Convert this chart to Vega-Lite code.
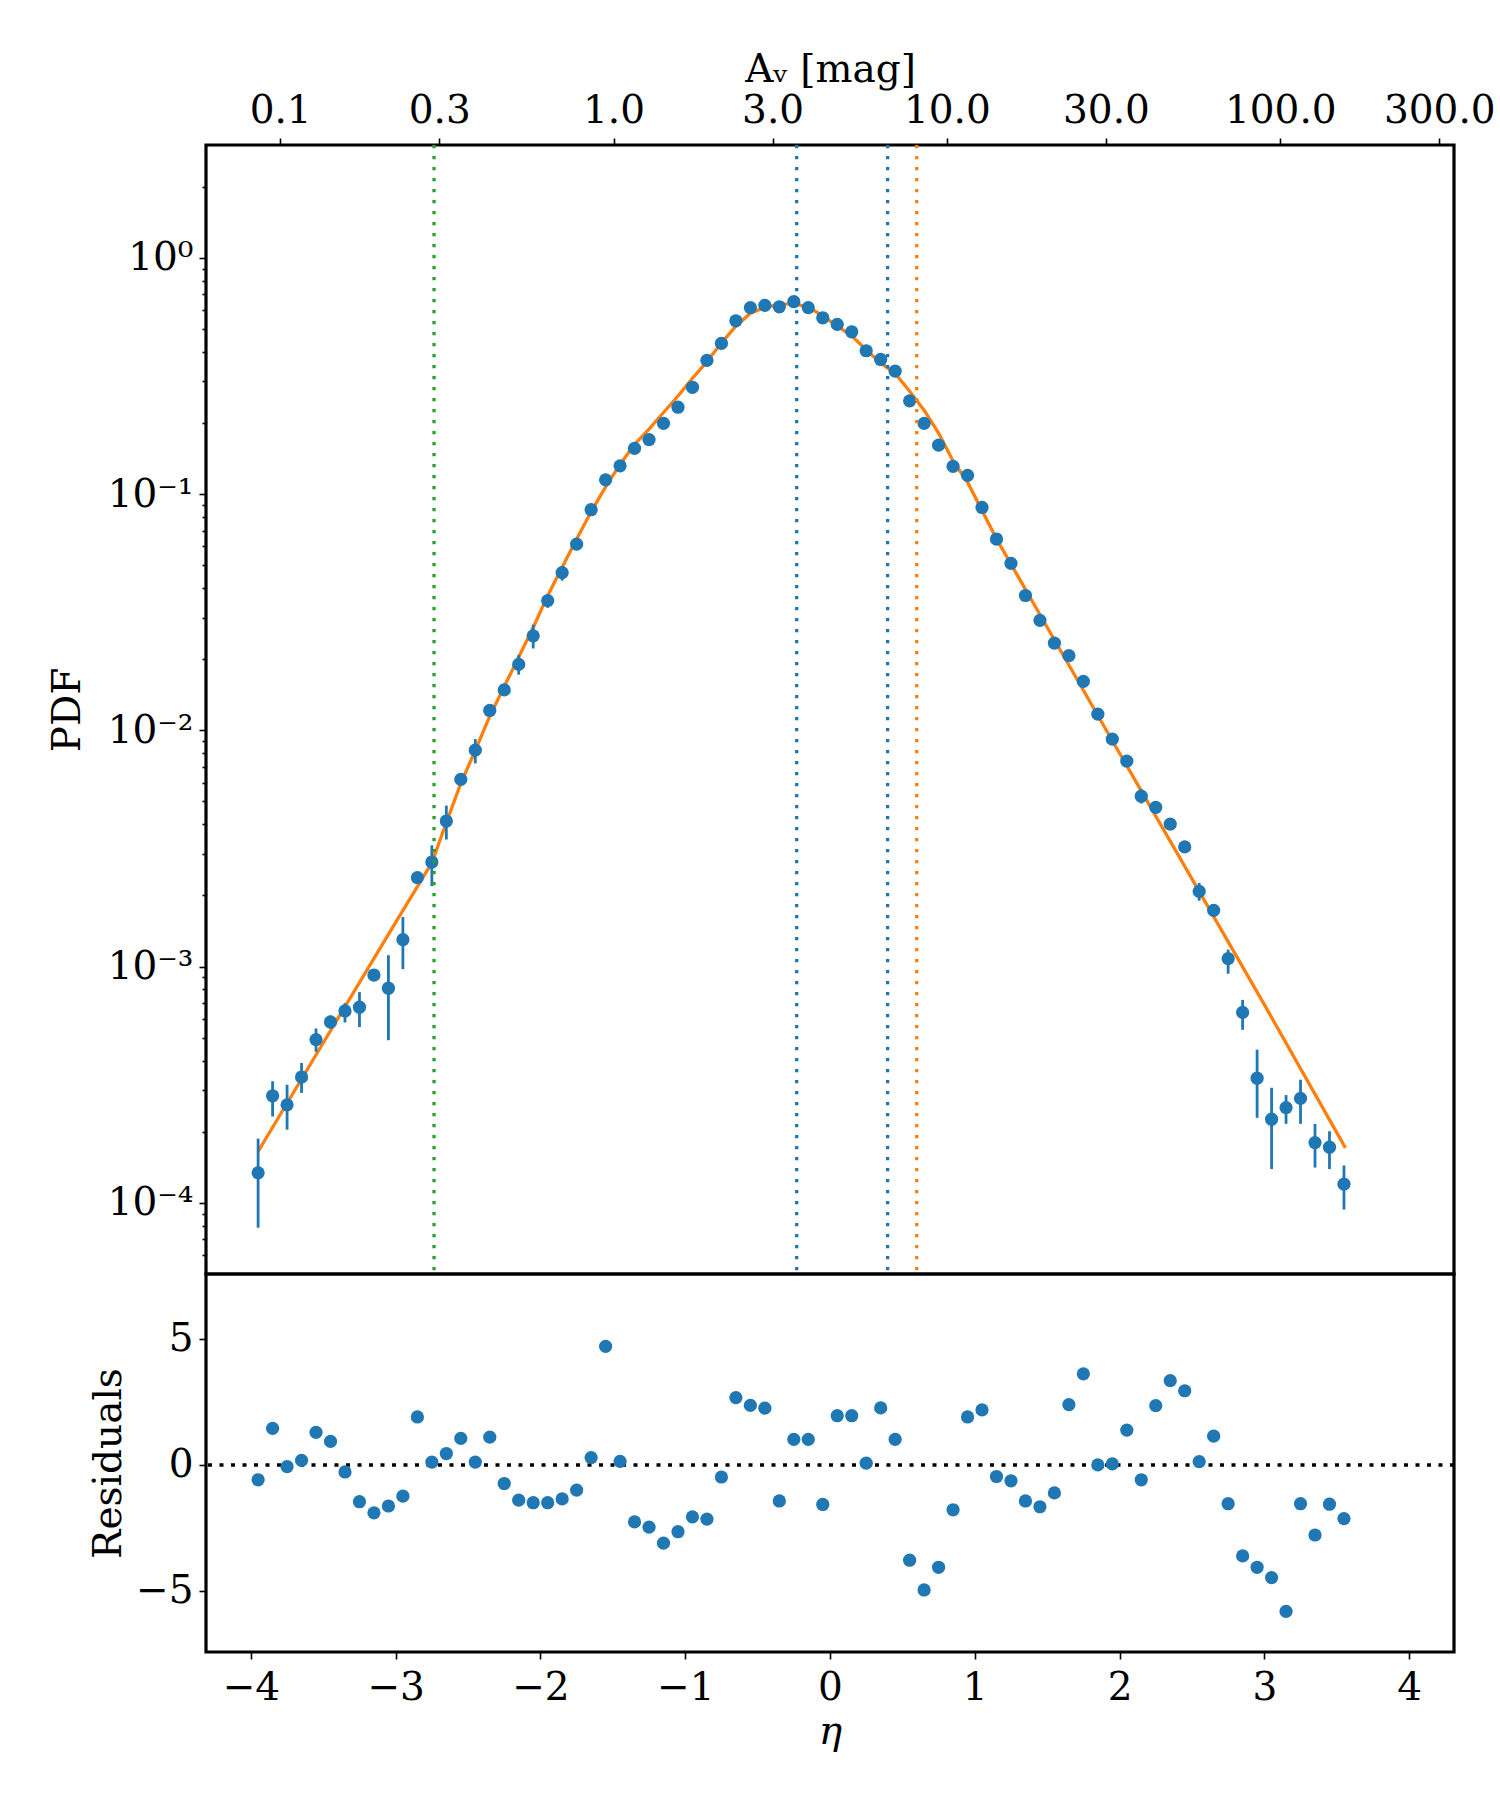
{
  "$schema": "https://vega.github.io/schema/vega-lite/v6.json",
  "background": "white",
  "padding": {"left": 46, "top": 48, "right": 5, "bottom": 5},
  "config": {
    "font": "DejaVu Serif",
    "view": {"stroke": "black", "strokeWidth": 3.2},
    "axis": {
      "labelFont": "DejaVu Serif", "titleFont": "DejaVu Serif",
      "labelFontSize": 39, "titleFontSize": 39,
      "labelColor": "black", "titleColor": "black", "titleFontWeight": "normal",
      "tickColor": "black", "tickWidth": 1.6, "tickSize": 7,
      "domain": false, "grid": false, "labelOverlap": false
    }
  },
  "spacing": 0,
  "bounds": "flush",
  "resolve": {"scale": {"x": "independent", "y": "independent"}},
  "vconcat": [
    {
      "width": 1248,
      "height": 1129,
      "resolve": {"scale": {"x": "independent"}, "axis": {"x": "independent", "y": "independent"}},
      "layer": [
        {
          "data": {"values": [
            {"eta": -3.95, "model": 1.65e-4},
            {"eta": -3.5, "model": 4.76e-4},
            {"eta": -3.0, "model": 1.54e-3},
            {"eta": -2.75, "model": 2.75e-3},
            {"eta": -2.65, "model": 4.07e-3},
            {"eta": -2.55, "model": 5.96e-3},
            {"eta": -2.45, "model": 8.22e-3},
            {"eta": -2.35, "model": 0.01148},
            {"eta": -2.25, "model": 0.01531},
            {"eta": -2.15, "model": 0.02042},
            {"eta": -2.05, "model": 0.02723},
            {"eta": -1.95, "model": 0.03715},
            {"eta": -1.85, "model": 0.04898},
            {"eta": -1.75, "model": 0.06457},
            {"eta": -1.65, "model": 0.08414},
            {"eta": -1.55, "model": 0.1072},
            {"eta": -1.45, "model": 0.1334},
            {"eta": -1.35, "model": 0.1622},
            {"eta": -1.25, "model": 0.1884},
            {"eta": -1.15, "model": 0.2213},
            {"eta": -1.05, "model": 0.2600},
            {"eta": -0.95, "model": 0.3090},
            {"eta": -0.85, "model": 0.3631},
            {"eta": -0.75, "model": 0.4365},
            {"eta": -0.65, "model": 0.5129},
            {"eta": -0.55, "model": 0.5821},
            {"eta": -0.45, "model": 0.6166},
            {"eta": -0.35, "model": 0.6339},
            {"eta": -0.25, "model": 0.6412},
            {"eta": -0.15, "model": 0.6166},
            {"eta": -0.05, "model": 0.5689},
            {"eta": 0.05, "model": 0.5129},
            {"eta": 0.15, "model": 0.4677},
            {"eta": 0.25, "model": 0.4074},
            {"eta": 0.35, "model": 0.3589},
            {"eta": 0.45, "model": 0.3236},
            {"eta": 0.55, "model": 0.2723},
            {"eta": 0.6, "model": 0.2483},
            {"eta": 0.65, "model": 0.2265},
            {"eta": 0.75, "model": 0.1811},
            {"eta": 0.85, "model": 0.1380},
            {"eta": 0.95, "model": 0.1122},
            {"eta": 1.05, "model": 0.0851},
            {"eta": 1.15, "model": 0.0646},
            {"eta": 1.5, "model": 0.0273},
            {"eta": 2.0, "model": 8.0e-3},
            {"eta": 2.5, "model": 2.35e-3},
            {"eta": 3.0, "model": 6.9e-4},
            {"eta": 3.56, "model": 1.71e-4}
          ]},
          "mark": {"type": "line", "color": "#ff7f0e", "strokeWidth": 3.3},
          "encoding": {
            "x": {"field": "eta", "type": "quantitative", "scale": {"domain": [-4.31, 4.31], "nice": false, "zero": false}, "axis": null},
            "y": {"field": "model", "type": "quantitative", "scale": {"type": "log", "domain": [5e-5, 3], "nice": false}, "axis": null}
          }
        },
        {
          "data": {"name": "pdfdata"},
          "mark": {"type": "rule", "color": "#1f77b4", "strokeWidth": 2.8},
          "encoding": {
            "x": {"field": "eta", "type": "quantitative", "scale": {"domain": [-4.31, 4.31], "nice": false, "zero": false}, "axis": null},
            "y": {
              "field": "lo", "type": "quantitative", "title": null,
              "scale": {"type": "log", "domain": [5e-5, 3], "nice": false},
              "axis": {
                "orient": "left",
                "values": [6e-5, 7e-5, 8e-5, 9e-5, 0.0002, 0.0003, 0.0004, 0.0005, 0.0006, 0.0007, 0.0008, 0.0009, 0.002, 0.003, 0.004, 0.005, 0.006, 0.007, 0.008, 0.009, 0.02, 0.03, 0.04, 0.05, 0.06, 0.07, 0.08, 0.09, 0.2, 0.3, 0.4, 0.5, 0.6, 0.7, 0.8, 0.9, 2],
                "labels": false, "tickSize": 4, "title": null
              }
            },
            "y2": {"field": "hi"}
          }
        },
        {
          "data": {"name": "pdfdata"},
          "mark": {"type": "point", "filled": true, "size": 175, "color": "#1f77b4", "opacity": 1},
          "encoding": {
            "x": {"field": "eta", "type": "quantitative", "scale": {"domain": [-4.31, 4.31], "nice": false, "zero": false}, "axis": null},
            "y": {
              "field": "pdf", "type": "quantitative", "title": "PDF",
              "scale": {"type": "log", "domain": [5e-5, 3], "nice": false},
              "axis": {
                "orient": "left",
                "values": [0.0001, 0.001, 0.01, 0.1, 1],
                "labelExpr": "datum.value == 1 ? '10⁰' : datum.value == 0.1 ? '10⁻¹' : datum.value == 0.01 ? '10⁻²' : datum.value == 0.001 ? '10⁻³' : '10⁻⁴'",
                "tickSize": 7,
                "labelPadding": 6,
                "titlePadding": 20
              }
            }
          }
        },
        {
          "data": {"values": [
            {"eta": -2.735, "line": "threshold"},
            {"eta": -0.23, "line": "peak"},
            {"eta": 0.398, "line": "mean"},
            {"eta": 0.599, "line": "transition"}
          ]},
          "mark": {"type": "rule", "strokeWidth": 3.3, "strokeDash": [3.3, 7.7]},
          "encoding": {
            "x": {"field": "eta", "type": "quantitative", "scale": {"domain": [-4.31, 4.31], "nice": false, "zero": false}, "axis": null},
            "color": {"field": "line", "type": "nominal", "legend": null,
              "scale": {"domain": ["threshold", "peak", "mean", "transition"], "range": ["#2ca02c", "#1f77b4", "#1f77b4", "#ff7f0e"]}}
          }
        },
        {
          "data": {"values": [{"Av": 0.1}, {"Av": 300}]},
          "mark": {"type": "point", "opacity": 0},
          "encoding": {
            "x": {
              "field": "Av", "type": "quantitative", "title": "Aᵥ [mag]",
              "scale": {"type": "log", "domain": [0.05991, 332.0], "nice": false},
              "axis": {"orient": "top", "values": [0.1, 0.3, 1, 3, 10, 30, 100, 300], "format": ".1f", "labelPadding": 8, "titlePadding": 2}
            }
          }
        }
      ]
    },
    {
      "width": 1248,
      "height": 378,
      "layer": [
        {
          "data": {"values": [{}]},
          "mark": {"type": "rule", "color": "black", "strokeWidth": 3.5, "strokeDash": [4, 7.5]},
          "encoding": {"y": {"datum": 0}}
        },
        {
          "data": {"values": [
            {"eta": -3.95, "res": -0.59}, {"eta": -3.85, "res": 1.45}, {"eta": -3.75, "res": -0.07}, {"eta": -3.65, "res": 0.18},
            {"eta": -3.55, "res": 1.29}, {"eta": -3.45, "res": 0.93}, {"eta": -3.35, "res": -0.28}, {"eta": -3.25, "res": -1.46},
            {"eta": -3.15, "res": -1.90}, {"eta": -3.05, "res": -1.63}, {"eta": -2.95, "res": -1.24}, {"eta": -2.85, "res": 1.90},
            {"eta": -2.75, "res": 0.11}, {"eta": -2.65, "res": 0.45}, {"eta": -2.55, "res": 1.05}, {"eta": -2.45, "res": 0.11},
            {"eta": -2.35, "res": 1.10}, {"eta": -2.25, "res": -0.74}, {"eta": -2.15, "res": -1.40}, {"eta": -2.05, "res": -1.50},
            {"eta": -1.95, "res": -1.50}, {"eta": -1.85, "res": -1.35}, {"eta": -1.75, "res": -1.00}, {"eta": -1.65, "res": 0.29},
            {"eta": -1.55, "res": 4.70}, {"eta": -1.45, "res": 0.14}, {"eta": -1.35, "res": -2.26}, {"eta": -1.25, "res": -2.47},
            {"eta": -1.15, "res": -3.10}, {"eta": -1.05, "res": -2.65}, {"eta": -0.95, "res": -2.06}, {"eta": -0.85, "res": -2.15},
            {"eta": -0.75, "res": -0.48}, {"eta": -0.65, "res": 2.67}, {"eta": -0.55, "res": 2.36}, {"eta": -0.45, "res": 2.25},
            {"eta": -0.35, "res": -1.43}, {"eta": -0.25, "res": 1.01}, {"eta": -0.15, "res": 1.01}, {"eta": -0.05, "res": -1.57},
            {"eta": 0.05, "res": 1.95}, {"eta": 0.15, "res": 1.95}, {"eta": 0.25, "res": 0.07}, {"eta": 0.35, "res": 2.26},
            {"eta": 0.45, "res": 1.01}, {"eta": 0.55, "res": -3.78}, {"eta": 0.65, "res": -4.96}, {"eta": 0.75, "res": -4.06},
            {"eta": 0.85, "res": -1.78}, {"eta": 0.95, "res": 1.90}, {"eta": 1.05, "res": 2.18}, {"eta": 1.15, "res": -0.46},
            {"eta": 1.25, "res": -0.63}, {"eta": 1.35, "res": -1.43}, {"eta": 1.45, "res": -1.66}, {"eta": 1.55, "res": -1.11},
            {"eta": 1.65, "res": 2.39}, {"eta": 1.75, "res": 3.61}, {"eta": 1.85, "res": 0.0}, {"eta": 1.95, "res": 0.04},
            {"eta": 2.05, "res": 1.38}, {"eta": 2.15, "res": -0.59}, {"eta": 2.25, "res": 2.35}, {"eta": 2.35, "res": 3.34},
            {"eta": 2.45, "res": 2.94}, {"eta": 2.55, "res": 0.13}, {"eta": 2.65, "res": 1.14}, {"eta": 2.75, "res": -1.54},
            {"eta": 2.85, "res": -3.61}, {"eta": 2.95, "res": -4.06}, {"eta": 3.05, "res": -4.47}, {"eta": 3.15, "res": -5.81},
            {"eta": 3.25, "res": -1.54}, {"eta": 3.35, "res": -2.78}, {"eta": 3.45, "res": -1.56}, {"eta": 3.55, "res": -2.13}
          ]},
          "mark": {"type": "point", "filled": true, "size": 175, "color": "#1f77b4", "opacity": 1},
          "encoding": {
            "x": {
              "field": "eta", "type": "quantitative", "title": "η",
              "scale": {"domain": [-4.31, 4.31], "nice": false, "zero": false},
              "axis": {"values": [-4, -3, -2, -1, 0, 1, 2, 3, 4], "format": "d", "labelPadding": 9, "titlePadding": 5, "titleFontStyle": "italic"}
            },
            "y": {
              "field": "res", "type": "quantitative", "title": "Residuals",
              "scale": {"domain": [-7.42, 7.57], "nice": false, "zero": false},
              "axis": {"values": [-5, 0, 5], "format": "d", "labelPadding": 6, "titlePadding": 7}
            }
          }
        }
      ]
    }
  ],
  "datasets": {
    "pdfdata": [
      {"eta": -3.95, "pdf": 1.34e-4, "lo": 7.85e-5, "hi": 1.87e-4},
      {"eta": -3.85, "pdf": 2.84e-4, "lo": 2.32e-4, "hi": 3.27e-4},
      {"eta": -3.75, "pdf": 2.60e-4, "lo": 2.04e-4, "hi": 3.16e-4},
      {"eta": -3.65, "pdf": 3.41e-4, "lo": 2.92e-4, "hi": 3.91e-4},
      {"eta": -3.55, "pdf": 4.91e-4, "lo": 4.36e-4, "hi": 5.47e-4},
      {"eta": -3.45, "pdf": 5.83e-4, "lo": 5.45e-4, "hi": 6.20e-4},
      {"eta": -3.35, "pdf": 6.49e-4, "lo": 5.80e-4, "hi": 7.00e-4},
      {"eta": -3.25, "pdf": 6.73e-4, "lo": 5.55e-4, "hi": 7.80e-4},
      {"eta": -3.15, "pdf": 9.21e-4, "lo": 8.80e-4, "hi": 9.60e-4},
      {"eta": -3.05, "pdf": 8.10e-4, "lo": 4.88e-4, "hi": 1.117e-3},
      {"eta": -2.95, "pdf": 1.30e-3, "lo": 9.75e-4, "hi": 1.62e-3},
      {"eta": -2.85, "pdf": 2.38e-3, "lo": 2.30e-3, "hi": 2.46e-3},
      {"eta": -2.75, "pdf": 2.77e-3, "lo": 2.19e-3, "hi": 3.26e-3},
      {"eta": -2.65, "pdf": 4.13e-3, "lo": 3.45e-3, "hi": 4.80e-3},
      {"eta": -2.55, "pdf": 6.20e-3, "lo": 5.90e-3, "hi": 6.50e-3},
      {"eta": -2.45, "pdf": 8.24e-3, "lo": 7.24e-3, "hi": 9.18e-3},
      {"eta": -2.35, "pdf": 0.01213, "lo": 0.0117, "hi": 0.0126},
      {"eta": -2.25, "pdf": 0.01482, "lo": 0.0140, "hi": 0.0157},
      {"eta": -2.15, "pdf": 0.0190, "lo": 0.0172, "hi": 0.0208},
      {"eta": -2.05, "pdf": 0.0251, "lo": 0.0222, "hi": 0.0280},
      {"eta": -1.95, "pdf": 0.0354, "lo": 0.0330, "hi": 0.0375},
      {"eta": -1.85, "pdf": 0.0465, "lo": 0.0430, "hi": 0.0495},
      {"eta": -1.75, "pdf": 0.0614, "lo": 0.0580, "hi": 0.0645},
      {"eta": -1.65, "pdf": 0.0858, "lo": 0.083, "hi": 0.089},
      {"eta": -1.55, "pdf": 0.1148, "lo": 0.112, "hi": 0.118},
      {"eta": -1.45, "pdf": 0.1316, "lo": 0.128, "hi": 0.135},
      {"eta": -1.35, "pdf": 0.156, "lo": 0.152, "hi": 0.160},
      {"eta": -1.25, "pdf": 0.170, "lo": 0.166, "hi": 0.174},
      {"eta": -1.15, "pdf": 0.199, "lo": 0.195, "hi": 0.203},
      {"eta": -1.05, "pdf": 0.233, "lo": 0.228, "hi": 0.238},
      {"eta": -0.95, "pdf": 0.283, "lo": 0.277, "hi": 0.289},
      {"eta": -0.85, "pdf": 0.368, "lo": 0.361, "hi": 0.375},
      {"eta": -0.75, "pdf": 0.434, "lo": 0.426, "hi": 0.442},
      {"eta": -0.65, "pdf": 0.541, "lo": 0.531, "hi": 0.551},
      {"eta": -0.55, "pdf": 0.615, "lo": 0.604, "hi": 0.626},
      {"eta": -0.45, "pdf": 0.629, "lo": 0.618, "hi": 0.640},
      {"eta": -0.35, "pdf": 0.620, "lo": 0.609, "hi": 0.631},
      {"eta": -0.25, "pdf": 0.652, "lo": 0.641, "hi": 0.663},
      {"eta": -0.15, "pdf": 0.615, "lo": 0.604, "hi": 0.626},
      {"eta": -0.05, "pdf": 0.557, "lo": 0.547, "hi": 0.567},
      {"eta": 0.05, "pdf": 0.522, "lo": 0.513, "hi": 0.531},
      {"eta": 0.15, "pdf": 0.486, "lo": 0.477, "hi": 0.495},
      {"eta": 0.25, "pdf": 0.404, "lo": 0.397, "hi": 0.411},
      {"eta": 0.35, "pdf": 0.371, "lo": 0.364, "hi": 0.378},
      {"eta": 0.45, "pdf": 0.331, "lo": 0.325, "hi": 0.337},
      {"eta": 0.55, "pdf": 0.248, "lo": 0.243, "hi": 0.253},
      {"eta": 0.65, "pdf": 0.199, "lo": 0.195, "hi": 0.203},
      {"eta": 0.75, "pdf": 0.161, "lo": 0.157, "hi": 0.165},
      {"eta": 0.85, "pdf": 0.131, "lo": 0.128, "hi": 0.134},
      {"eta": 0.95, "pdf": 0.120, "lo": 0.117, "hi": 0.123},
      {"eta": 1.05, "pdf": 0.0877, "lo": 0.0855, "hi": 0.0899},
      {"eta": 1.15, "pdf": 0.0645, "lo": 0.0628, "hi": 0.0662},
      {"eta": 1.25, "pdf": 0.0509, "lo": 0.0495, "hi": 0.0523},
      {"eta": 1.35, "pdf": 0.0372, "lo": 0.0361, "hi": 0.0383},
      {"eta": 1.45, "pdf": 0.0292, "lo": 0.0283, "hi": 0.0301},
      {"eta": 1.55, "pdf": 0.0234, "lo": 0.0226, "hi": 0.0242},
      {"eta": 1.65, "pdf": 0.0207, "lo": 0.0200, "hi": 0.0214},
      {"eta": 1.75, "pdf": 0.0161, "lo": 0.0155, "hi": 0.0167},
      {"eta": 1.85, "pdf": 0.0117, "lo": 0.0112, "hi": 0.0122},
      {"eta": 1.95, "pdf": 9.18e-3, "lo": 8.8e-3, "hi": 9.56e-3},
      {"eta": 2.05, "pdf": 7.41e-3, "lo": 7.08e-3, "hi": 7.74e-3},
      {"eta": 2.15, "pdf": 5.26e-3, "lo": 4.90e-3, "hi": 5.62e-3},
      {"eta": 2.25, "pdf": 4.72e-3, "lo": 4.50e-3, "hi": 4.94e-3},
      {"eta": 2.35, "pdf": 4.01e-3, "lo": 3.82e-3, "hi": 4.20e-3},
      {"eta": 2.45, "pdf": 3.21e-3, "lo": 3.05e-3, "hi": 3.37e-3},
      {"eta": 2.55, "pdf": 2.08e-3, "lo": 1.90e-3, "hi": 2.26e-3},
      {"eta": 2.65, "pdf": 1.73e-3, "lo": 1.64e-3, "hi": 1.82e-3},
      {"eta": 2.75, "pdf": 1.08e-3, "lo": 9.33e-4, "hi": 1.18e-3},
      {"eta": 2.85, "pdf": 6.40e-4, "lo": 5.40e-4, "hi": 7.23e-4},
      {"eta": 2.95, "pdf": 3.37e-4, "lo": 2.29e-4, "hi": 4.45e-4},
      {"eta": 3.05, "pdf": 2.26e-4, "lo": 1.39e-4, "hi": 3.07e-4},
      {"eta": 3.15, "pdf": 2.53e-4, "lo": 2.16e-4, "hi": 2.86e-4},
      {"eta": 3.25, "pdf": 2.77e-4, "lo": 2.16e-4, "hi": 3.32e-4},
      {"eta": 3.35, "pdf": 1.80e-4, "lo": 1.41e-4, "hi": 2.16e-4},
      {"eta": 3.45, "pdf": 1.72e-4, "lo": 1.39e-4, "hi": 2.01e-4},
      {"eta": 3.55, "pdf": 1.20e-4, "lo": 9.37e-5, "hi": 1.44e-4}
    ]
  }
}
